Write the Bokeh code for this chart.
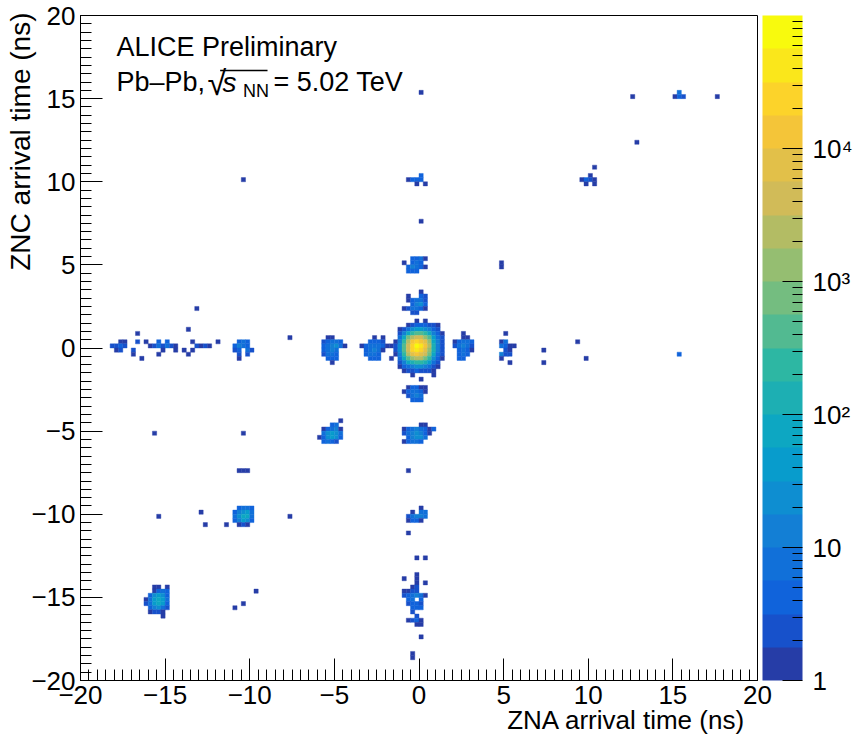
import numpy as np
from bokeh.plotting import figure
from bokeh.models import (ColumnDataSource, LogColorMapper, ColorBar, FixedTicker, Title,
                          SingleIntervalTicker, CustomJSTickFormatter, Label, BoxAnnotation)
from bokeh.embed import file_html
from bokeh.resources import INLINE

BIN = 0.25                          # ns, histogram bin width
LEVELS = "0123456789abcdefghij"     # colour band (20 bands, log 1 .. 1e5)

# ---- clusters: left-column lower edge x (ns), top-row lower edge y (ns), rows of band levels ----
central_x0, central_y0 = -1.75, 1.5
central_rows = [
    "......0.0.....",
    "....01222110..",
    "..0135665421..",
    "..1479aa97420.",
    "..37bdeeca631.",
    ".049dghgfc741.",
    "015aehjigd841.",
    ".15aehihfc841.",
    ".049dfgfeb731.",
    "0.37acddb9520.",
    "..1478998631..",
    "..0234554310..",
    "...01121110...",
    ".....0....0...",
    ".......0......",
]
up25_x0, up25_y0 = -1.0, 3.25
up25_rows = ["....0..", ".0..21.", ".02331.", "..2452.", "013320.", "..11..."]
up5_x0, up5_y0 = -1.0, 5.25
up5_rows = ["..2230", "0.232.", ".24320", ".222.."]
up10_x0, up10_y0 = -0.75, 10.25
up10_rows = ["...2.", "0222.", "..0.0"]
dn25_x0, dn25_y0 = -1.0, -2.5
dn25_rows = [".02200", "023320", ".1343.", "..222."]
dn5_x0, dn5_y0 = -1.0, -4.75
dn5_rows = ["....00..", "02343202", "1345420.", ".24553..", "02332..."]
dn10_x0, dn10_y0 = -0.75, -9.75
dn10_rows = ["...0.", ".0.33", "13443", "0220."]
dn15_x0, dn15_y0 = -1.0, -13.75
dn15_rows = ["...0..", "0..0..", "...0.0", "..01..", "0011..", "123430", ".23.2.",
             ".1221.", "..222.", "..1...", "...1..", ".0120.", "...00."]
rt25_x0, rt25_y0 = 2.0, 0.75
rt25_rows = ["..0..", "..00.", "02332", "13431", ".2320", ".232.", ".22.."]
rt5_x0, rt5_y0 = 4.75, 0.75
rt5_rows = [".0..", "....", "03..", "3200", ".10.", "411.", "0...", "..0."]
lf25_x0, lf25_y0 = -3.5, 0.5
lf25_rows = ["...0.0.", "..2221.", "0233320", ".23430.", ".2332..", "..222.."]
lf5_x0, lf5_y0 = -5.75, 0.5
lf5_rows = [".00...", "12332.", "234530", "2343..", "1332..", ".222..", "..0..."]
lf10_x0, lf10_y0 = -11.0, 0.25
lf10_rows = [".232.", "2432.", "12.31", ".1.1.", ".0..."]
lfrow_x0, lfrow_y0 = -18.5, 1.0
lfrow_rows = [
    "...................0........",
    ".......0....................",
    "............................",
    "...00..1.0..2.2.....0.....0.",
    ".1121.....0131310....1010...",
    "..01..1......0..0.0.0.......",
    "......0.....0......0........",
    "........0...................",
]
d5_x0, d5_y0 = -6.0, -4.5
d5_rows = [".....0", "...23.", ".02340", ".35653", "025652", ".2321."]
d10_x0, d10_y0 = -11.0, -9.75
d10_rows = [".2332", "24563", "35773", "24652", ".010."]
d15_x0, d15_y0 = -16.25, -14.5
d15_rows = ["..00.0", "..0232", ".25652", "036763", "136762", ".24531", ".0110.", "....0."]

# ---- isolated bins: lower-edge x, y (ns) and band level ----
single_x = [0.0, 12.5, 15.0, 15.25, 15.5, 15.25, 17.5, 12.75, 10.25, 10.0, 9.5, 9.75, 10.0,
            10.25, 9.75, 10.25, -10.5, 0.0, 4.75, 4.75, -13.25, -7.75, 7.25, 7.25, 9.25, 9.75,
            15.25, -0.75, -15.75, -10.5, -10.75, -10.5, -10.25, -13.0, -15.5, -12.75, -11.5,
            -7.75, -0.75, -0.25, 0.25, -9.75, -10.5, -11.0, 0.0, -0.5, -0.5]
single_y = [15.25, 15.0, 15.0, 15.0, 15.0, 15.25, 15.0, 12.25, 10.75, 10.25, 10.0, 10.0, 10.0,
            10.0, 9.75, 9.75, 10.0, 7.5, 5.0, 4.75, 2.25, 0.5, -0.25, -1.0, 0.25, -0.75,
            -0.5, -7.5, -5.25, -5.25, -7.5, -7.5, -7.5, -10.0, -10.25, -10.75, -10.75,
            -10.25, -11.25, -12.75, -12.75, -14.75, -15.5, -15.75, -17.5, -18.5, -18.75]
single_level = [0, 0, 0, 2, 1, 3, 0, 0, 0, 0, 0, 2, 1,
                0, 0, 0, 0, 0, 0, 0, 0, 0, 0, 0, 0, 0,
                2, 0, 0, 0, 0, 0, 0, 0, 0, 0, 0,
                0, 0, 0, 0, 0, 0, 0, 0, 0, 0]

cbar_ticks = [1, 10, 100, 1000, 10000]
axis_tick_interval = 5

clusters = [
    (central_x0, central_y0, central_rows), (up25_x0, up25_y0, up25_rows),
    (up5_x0, up5_y0, up5_rows), (up10_x0, up10_y0, up10_rows),
    (dn25_x0, dn25_y0, dn25_rows), (dn5_x0, dn5_y0, dn5_rows),
    (dn10_x0, dn10_y0, dn10_rows), (dn15_x0, dn15_y0, dn15_rows),
    (rt25_x0, rt25_y0, rt25_rows), (rt5_x0, rt5_y0, rt5_rows),
    (lf25_x0, lf25_y0, lf25_rows), (lf5_x0, lf5_y0, lf5_rows),
    (lf10_x0, lf10_y0, lf10_rows), (lfrow_x0, lfrow_y0, lfrow_rows),
    (d5_x0, d5_y0, d5_rows), (d10_x0, d10_y0, d10_rows), (d15_x0, d15_y0, d15_rows),
]

def level_to_count(lv):
    return 10 ** ((lv + 0.5) / 4.0)

xs, ys, cs = [], [], []
for x0, y0, rows in clusters:
    for r, row in enumerate(rows):
        for c, ch in enumerate(row):
            if ch != ".":
                xs.append(x0 + c * BIN + BIN / 2)
                ys.append(y0 - r * BIN + BIN / 2)
                cs.append(level_to_count(LEVELS.index(ch)))
for x, y, lv in zip(single_x, single_y, single_level):
    xs.append(x + BIN / 2)
    ys.append(y + BIN / 2)
    cs.append(level_to_count(lv))

src = ColumnDataSource(dict(x=xs, y=ys, count=cs))

# ROOT kBird palette, 20 contour colours
st = [0.0, 0.125, 0.25, 0.375, 0.5, 0.625, 0.75, 0.875, 1.0]
rr = [0.2082, 0.0592, 0.0780, 0.0232, 0.1802, 0.5301, 0.8186, 0.9956, 0.9764]
gg = [0.1664, 0.3599, 0.5041, 0.6419, 0.7178, 0.7492, 0.7328, 0.7862, 0.9832]
bb = [0.5293, 0.8684, 0.8385, 0.7914, 0.6425, 0.4662, 0.3499, 0.1968, 0.0539]
palette = []
for i in range(20):
    f = int((i + 0.99) * 255 / 20) / 254.0
    r_, g_, b_ = (np.interp(f, st, ch) for ch in (rr, gg, bb))
    palette.append("#%02x%02x%02x" % (int(r_ * 255), int(g_ * 255), int(b_ * 255)))

mapper = LogColorMapper(palette=palette, low=1, high=1e5)

FONT = "Liberation Sans"
p = figure(width=856, height=742, x_range=(-20, 20), y_range=(-20, 20),
           output_backend="svg", toolbar_location=None,
           min_border_left=80, min_border_right=99, min_border_top=15, min_border_bottom=62)
p.background_fill_color = "white"
p.border_fill_color = "white"
p.outline_line_color = "black"
p.outline_line_width = 1
p.grid.visible = False

p.rect(x="x", y="y", width=BIN, height=BIN, source=src,
       fill_color={"field": "count", "transform": mapper},
       line_color={"field": "count", "transform": mapper}, line_width=0.4)

minus_fmt = CustomJSTickFormatter(code="return tick < 0 ? '\u2212' + Math.abs(tick) : String(tick);")
for ax in (p.xaxis[0], p.yaxis[0]):
    ax.ticker = SingleIntervalTicker(interval=axis_tick_interval, num_minor_ticks=10)
    ax.formatter = minus_fmt
    ax.major_tick_in = 22
    ax.major_tick_out = 0
    ax.minor_tick_in = 11
    ax.minor_tick_out = 0
    ax.major_tick_line_color = "black"
    ax.minor_tick_line_color = "black"
    ax.axis_line_color = "black"
    ax.major_label_text_font = FONT
    ax.major_label_text_font_size = "26px"
    ax.major_label_text_color = "black"
    ax.major_label_standoff = 5

cb_fmt = CustomJSTickFormatter(code="""
const e = Math.round(Math.log10(tick));
const sup = ['', '', '\u00b2', '\u00b3', '\u2074', '\u2075'];
return e == 0 ? '1' : (e == 1 ? '10' : '10' + sup[e]);
""")
minor = [m * 10 ** d for d in range(5) for m in range(2, 10)]
cb = ColorBar(color_mapper=mapper, location=(682, 0), width=40, height=665,
              padding=0, margin=0,
              ticker=FixedTicker(ticks=cbar_ticks, minor_ticks=minor),
              formatter=cb_fmt,
              major_tick_in=20, major_tick_out=0, minor_tick_in=10, minor_tick_out=0,
              major_tick_line_color="black", minor_tick_line_color="black",
              label_standoff=10, major_label_text_font=FONT,
              major_label_text_font_size="26px", major_label_text_color="black",
              bar_line_color=None, border_line_color=None, background_fill_color=None)
p.add_layout(cb, "center")

# axis titles (right/top aligned as in ROOT)
p.add_layout(Title(text="ZNA arrival time (ns)", align="right", offset=12, standoff=-8,
                   text_font=FONT, text_font_size="26px", text_font_style="normal",
                   text_color="black"), "below")
p.add_layout(Title(text="ZNC arrival time (ns)", align="right", offset=-3, standoff=-15,
                   text_font=FONT, text_font_size="28px", text_font_style="normal",
                   text_color="black"), "left")

# in-frame texts
def lab(x, y, text, size, style="normal"):
    p.add_layout(Label(x=x, y=y, text=text, text_font=FONT, text_font_size=size,
                       text_font_style=style, text_color="black", text_baseline="alphabetic"))

lab(-17.87, 18.08, "ALICE Preliminary", "27px")
lab(-17.87, 15.97, "Pb\u2013Pb,", "27px")
lab(-12.50, 15.95, "\u221a", "34px")
lab(-11.61, 16.00, "s", "28px", "italic")
lab(-10.40, 15.46, "NN", "18px")
lab(-8.60, 15.97, "= 5.02 TeV", "27px")
p.add_layout(BoxAnnotation(left=-11.75, right=-8.95, bottom=16.64, top=16.73,
                           fill_color="black", fill_alpha=1, line_color=None))

open("out.html", "w").write(file_html(p, INLINE))
